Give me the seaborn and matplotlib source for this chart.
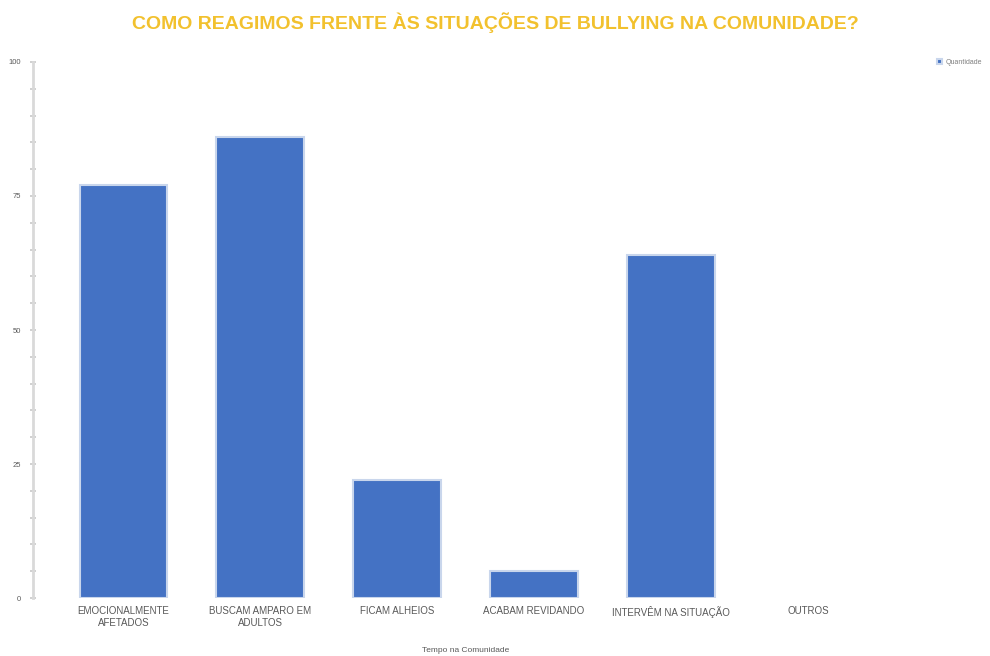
import matplotlib
matplotlib.use("Agg")
import matplotlib.pyplot as plt
from matplotlib.ticker import MultipleLocator
import seaborn as sns

TITLE = "COMO REAGIMOS FRENTE ÀS SITUAÇÕES DE BULLYING NA COMUNIDADE?"
X_LABEL = "Tempo na Comunidade"
SERIES = "Quantidade"
CATEGORIES = [
    "EMOCIONALMENTE\nAFETADOS",
    "BUSCAM AMPARO EM\nADULTOS",
    "FICAM ALHEIOS",
    "ACABAM REVIDANDO",
    "INTERVÊM NA SITUAÇÃO",
    "OUTROS",
]
VALUES = [77, 86, 22, 5, 64, 0]

BAR_COLOR = "#4472C4"
TITLE_COLOR = "#F2C12E"


def main() -> None:
    sns.set_theme(style="white")
    plt.rcParams["font.family"] = ["Liberation Sans", "DejaVu Sans"]

    fig = plt.figure(figsize=(9.9, 6.56), dpi=100)
    ax = fig.add_axes([0.0333, 0.0884, 0.874, 0.8171])

    sns.barplot(x=CATEGORIES, y=VALUES, color=BAR_COLOR, width=0.64, saturation=1,
                edgecolor="#C9D6EC", linewidth=1.5, label=SERIES, ax=ax)
    # no outline on empty bars
    for patch in ax.patches:
        if patch.get_height() == 0:
            patch.set_linewidth(0)

    ax.set_xlim(-0.66, 5.66)
    ax.set_ylim(0, 100)
    ax.yaxis.set_major_locator(MultipleLocator(25))
    ax.yaxis.set_minor_locator(MultipleLocator(5))
    ax.tick_params(axis="y", which="both", direction="inout", length=5, width=1.2,
                   color="#C8C8C8", labelsize=5.5, labelcolor="#595959", pad=6, left=True)
    ax.tick_params(axis="x", length=0, labelsize=7, labelcolor="#595959", pad=6)

    for name in ["top", "right", "bottom"]:
        ax.spines[name].set_visible(False)
    ax.spines["left"].set_color("#D9D9D9")
    ax.spines["left"].set_linewidth(2)

    ax.set_xlabel(X_LABEL, fontsize=6, color="#595959", labelpad=14)
    ax.set_ylabel("")

    fig.text(0.5, 0.966, TITLE, ha="center", va="center", fontsize=14,
             fontweight="bold", color=TITLE_COLOR)

    ax.legend(loc="upper left", bbox_to_anchor=(0.94, 0.92), bbox_transform=fig.transFigure,
              frameon=False, fontsize=5, handlelength=0.7, handleheight=0.7,
              handletextpad=0.6, labelcolor="#7F7F7F")

    fig.savefig("out.png", dpi=100, facecolor="white")
    plt.close(fig)


if __name__ == "__main__":
    main()
